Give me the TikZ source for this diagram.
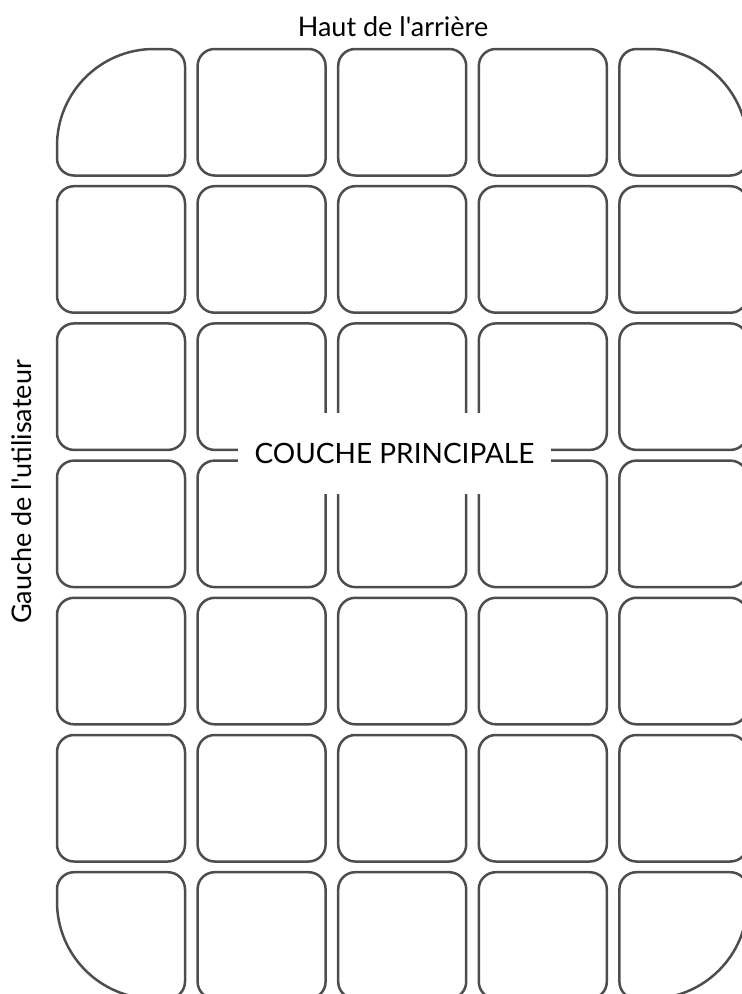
\documentclass[tikz,border=0pt]{standalone}
\usepackage{fontspec}
\setmainfont{Lato}[Ligatures=TeXOff]
\definecolor{keyline}{HTML}{4D4D4D}
\begin{document}
\begin{tikzpicture}[x=1pt,y=-1pt,
  key/.style={draw=keyline, line width=2.5pt, line join=round, line cap=round},
  label/.style={text=black, inner sep=0pt}]
\useasboundingbox (0,0) rectangle (742,994);
\clip (0,0) rectangle (742,994);
\def\W{128}
\def\H{126.5}
\def\k{0.5523}
\foreach \c in {0,...,4} {
  \foreach \r in {0,...,6} {
    \pgfmathsetmacro\xa{57+140.6*\c}
    \pgfmathsetmacro\ya{49+137.2*\r}
    \pgfmathsetmacro\xb{\xa+\W}
    \pgfmathsetmacro\yb{\ya+\H}
    \pgfmathsetmacro\rtl{(\c==0 && \r==0) ? 97 : 17}
    \pgfmathsetmacro\rtr{(\c==4 && \r==0) ? 97 : 17}
    \pgfmathsetmacro\rbl{(\c==0 && \r==6) ? 97 : 17}
    \pgfmathsetmacro\rbr{(\c==4 && \r==6) ? 97 : 17}
    \draw[key] (\xa+\rtl,\ya) -- (\xb-\rtr,\ya)
      .. controls (\xb-\rtr+\k*\rtr,\ya) and (\xb,\ya+\rtr-\k*\rtr) .. (\xb,\ya+\rtr)
      -- (\xb,\yb-\rbr)
      .. controls (\xb,\yb-\rbr+\k*\rbr) and (\xb-\rbr+\k*\rbr,\yb) .. (\xb-\rbr,\yb)
      -- (\xa+\rbl,\yb)
      .. controls (\xa+\rbl-\k*\rbl,\yb) and (\xa,\yb-\rbl+\k*\rbl) .. (\xa,\yb-\rbl)
      -- (\xa,\ya+\rtl)
      .. controls (\xa,\ya+\rtl-\k*\rtl) and (\xa+\rtl-\k*\rtl,\ya) .. (\xa+\rtl,\ya)
      -- cycle;
  }
}
\node[label, font=\fontsize{27}{30}\selectfont] (haut) at (393,27) {Haut de l'arrière};
\node[label, rotate=90, font=\fontsize{27}{30}\selectfont] (gauche) at (22,492) {Gauche de l'utilisateur};
\node[label, fill=white, minimum width=313pt, minimum height=81pt,
  font=\fontsize{28}{32}\selectfont] (couche) at (394.5,453.5) {COUCHE PRINCIPALE};
\end{tikzpicture}
\end{document}
